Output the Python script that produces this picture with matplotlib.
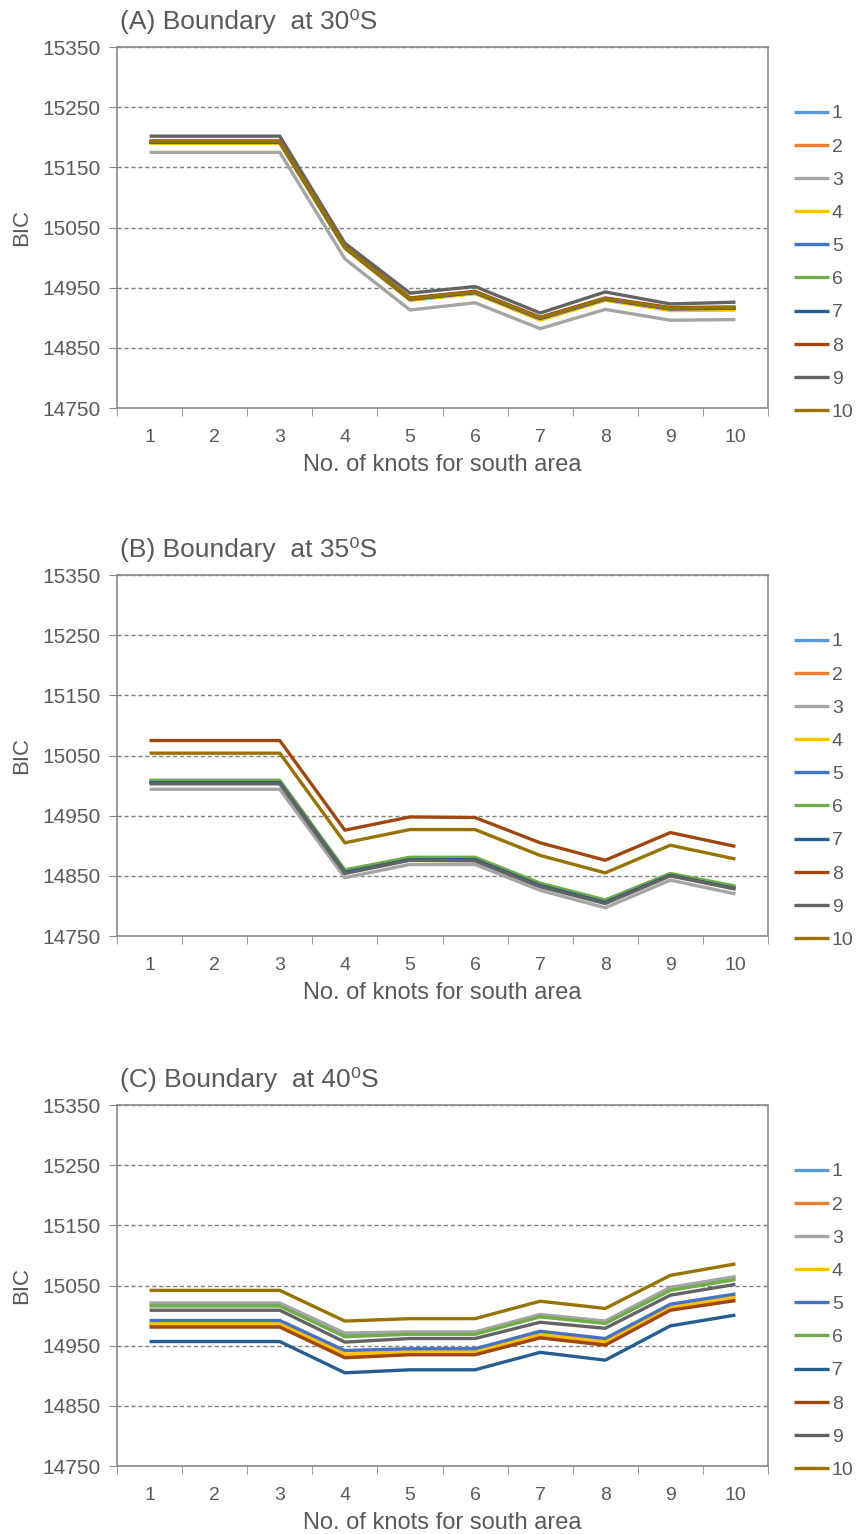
import numpy as np
import matplotlib
matplotlib.use("Agg")
import matplotlib.pyplot as plt

plt.rcParams['font.family'] = ['Liberation Sans', 'DejaVu Sans']

knots = [1, 2, 3, 4, 5, 6, 7, 8, 9, 10]
series_names = ["1", "2", "3", "4", "5", "6", "7", "8", "9", "10"]
colors = ["#5B9BD5", "#ED7D31", "#A5A5A5", "#FFC000", "#4472C4",
          "#70AD47", "#255E91", "#9E480E", "#636363", "#997300"]
titles = ["(A) Boundary  at 30\u2070S", "(B) Boundary  at 35\u2070S", "(C) Boundary  at 40\u2070S"]
y_ticks = [14750, 14850, 14950, 15050, 15150, 15250, 15350]

# BIC per north-area knot count (rows 1..10), for each boundary
bic_30s = [
    [15192, 15192, 15192, 15017, 14931, 14942, 14899, 14931, 14915, 14916],
    [15191, 15191, 15191, 15016, 14930, 14941, 14898, 14930, 14914, 14915],
    [15175, 15175, 15175, 14998, 14913, 14925, 14882, 14914, 14896, 14897],
    [15190, 15190, 15190, 15015, 14929, 14940, 14896, 14929, 14912, 14913],
    [15192, 15192, 15192, 15017, 14931, 14942, 14899, 14931, 14915, 14916],
    [15193, 15193, 15193, 15018, 14932, 14943, 14900, 14932, 14916, 14917],
    [15192, 15192, 15192, 15017, 14931, 14942, 14899, 14931, 14915, 14916],
    [15194, 15194, 15194, 15019, 14933, 14944, 14901, 14933, 14917, 14918],
    [15202, 15202, 15202, 15024, 14941, 14952, 14908, 14943, 14923, 14926],
    [15193, 15193, 15193, 15018, 14932, 14943, 14900, 14932, 14916, 14917],
]
bic_35s = [
    [15006, 15006, 15006, 14857, 14878, 14878, 14835, 14807, 14851, 14830],
    [15006, 15006, 15006, 14857, 14878, 14878, 14835, 14807, 14851, 14830],
    [14994, 14994, 14994, 14847, 14869, 14869, 14826, 14797, 14843, 14820],
    [15008, 15008, 15008, 14859, 14880, 14880, 14837, 14809, 14853, 14832],
    [15006, 15006, 15006, 14857, 14878, 14878, 14835, 14807, 14851, 14830],
    [15009, 15009, 15009, 14860, 14881, 14881, 14838, 14810, 14854, 14833],
    [15005, 15005, 15005, 14856, 14877, 14877, 14834, 14806, 14851, 14829],
    [15075, 15075, 15075, 14926, 14948, 14947, 14905, 14876, 14922, 14899],
    [15003, 15003, 15003, 14854, 14876, 14875, 14832, 14804, 14850, 14828],
    [15054, 15054, 15054, 14905, 14927, 14927, 14884, 14855, 14901, 14878],
]
bic_40s = [
    [15020, 15020, 15020, 14970, 14972, 14972, 15001, 14990, 15046, 15064],
    [14984, 14984, 14984, 14933, 14937, 14937, 14966, 14954, 15011, 15028],
    [15021, 15021, 15021, 14971, 14973, 14973, 15002, 14991, 15047, 15065],
    [14987, 14987, 14987, 14936, 14940, 14940, 14969, 14957, 15014, 15031],
    [14992, 14992, 14992, 14942, 14945, 14945, 14974, 14962, 15019, 15036],
    [15016, 15016, 15016, 14965, 14969, 14969, 14998, 14987, 15042, 15060],
    [14957, 14957, 14957, 14905, 14910, 14910, 14939, 14926, 14983, 15001],
    [14981, 14981, 14981, 14930, 14935, 14935, 14963, 14951, 15009, 15025],
    [15009, 15009, 15009, 14956, 14962, 14962, 14989, 14979, 15034, 15052],
    [15042, 15042, 15042, 14991, 14995, 14995, 15024, 15012, 15067, 15086],
]

text_col = "#595959"
frame_col = "#898989"


def draw_panel(ax, data, title):
    for i, vals in enumerate(data):
        ax.plot(knots, vals, color=colors[i], lw=2.4, label=series_names[i],
                solid_capstyle='butt', zorder=3)
    ax.set_xlim(0.5, 10.5)
    ax.set_ylim(14750, 15350)
    ax.set_yticks(y_ticks)
    ax.set_xticks(knots)
    ax.set_xticks(np.arange(0.5, 11, 1), minor=True)
    ax.tick_params(axis='x', which='major', length=0, labelsize=14, colors=text_col, pad=15)
    ax.tick_params(axis='x', which='minor', length=6, color=frame_col, direction='out')
    ax.tick_params(axis='y', length=6, color=frame_col, labelsize=15, labelcolor=text_col, pad=6)
    ax.grid(axis='y', color='#7f7f7f', linestyle=(0, (3, 2)), lw=1)
    for s in ax.spines.values():
        s.set_color(frame_col)
        s.set_linewidth(1.2)
        s.set_zorder(4)
    ax.set_ylabel("BIC", fontsize=16, color=text_col, labelpad=7)
    # x label placed at a fixed offset below the axes, like the original
    ax.text(0.5, -57 / 361, "No. of knots for south area", transform=ax.transAxes,
            fontsize=17, color=text_col, ha='center', va='center')
    ax.text(0.005, 1.035, title, transform=ax.transAxes, fontsize=19,
            color=text_col, va='bottom', ha='left')
    leg = ax.legend(loc='upper left', bbox_to_anchor=(1.04, 0.84), frameon=False,
                    fontsize=14, labelspacing=0.8, handlelength=1.8,
                    handletextpad=0.15, borderpad=0, borderaxespad=0)
    for t in leg.get_texts():
        t.set_color(text_col)


fig = plt.figure(figsize=(8.58, 15.34), dpi=100)
bottoms = [0.7340, 0.3898, 0.0443]
all_data = [bic_30s, bic_35s, bic_40s]
for b, data, title in zip(bottoms, all_data, titles):
    ax = fig.add_axes([0.1364, b, 0.7587, 0.2353])
    draw_panel(ax, data, title)

fig.savefig("out.png", dpi=100)
